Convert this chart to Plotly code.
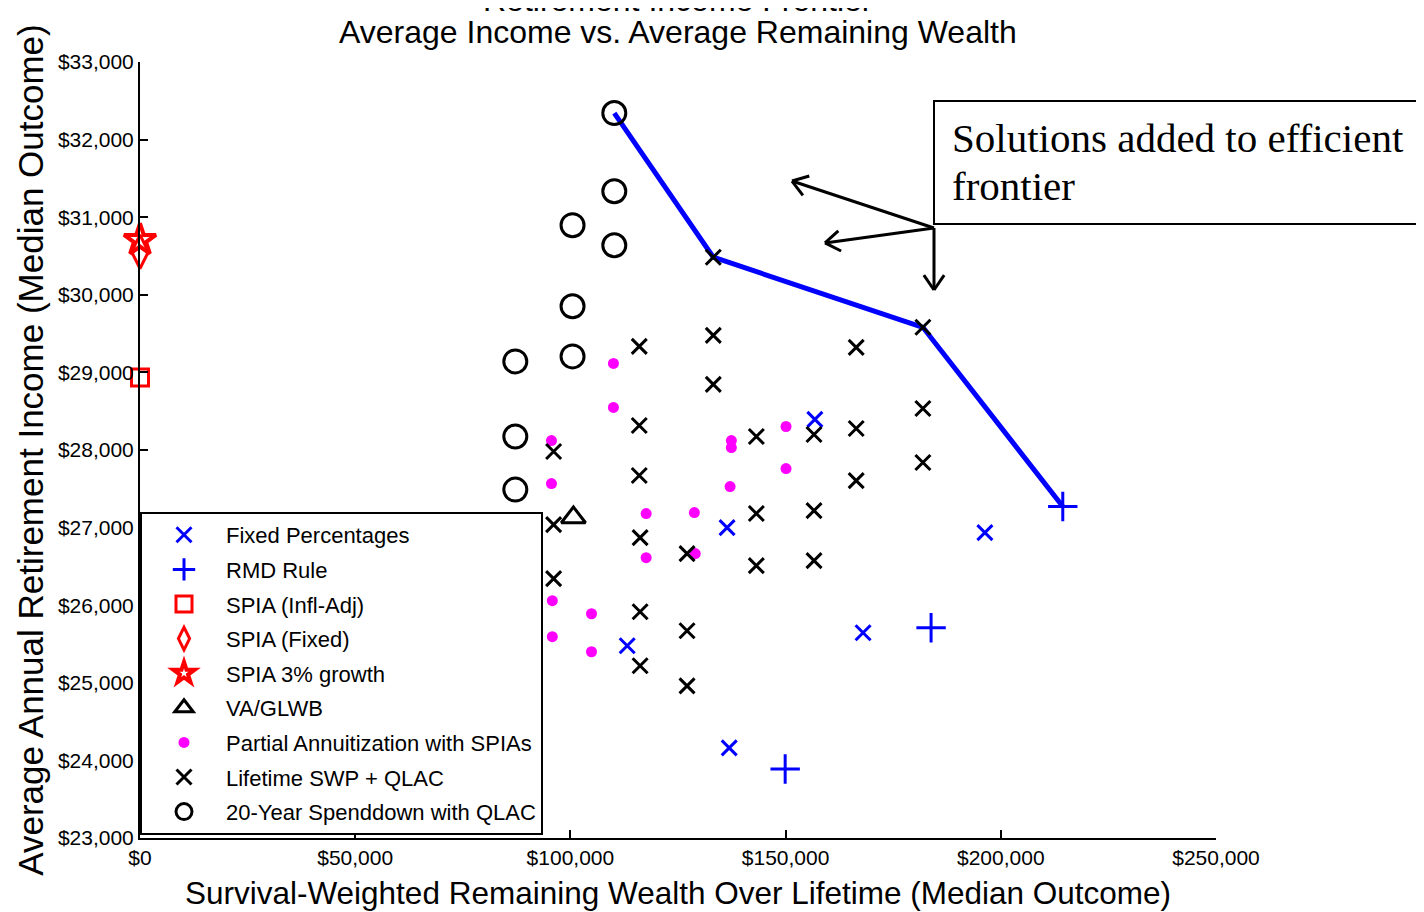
import math
import plotly.graph_objects as go

# values (wealth in $, income in $)
fixed_pct_x = [156800, 136400, 196300, 113200, 168000, 136900]
fixed_pct_y = [28394, 27000, 26935, 25477, 25645, 24161]

rmd_x = [214400, 183800, 149900]
rmd_y = [27271, 25710, 23890]

spia_infl_x = [0]
spia_infl_y = [28935]
spia_fixed_x = [0]
spia_fixed_y = [30555]
spia_growth_x = [0]
spia_growth_y = [30705]

va_x = [100700]
va_y = [27130]

partial_x = [110000, 110000, 95600, 95600, 137400, 137400, 137100, 150100, 150100,
             117600, 128800, 117600, 129000, 95800, 104900, 95800, 104900]
partial_y = [29116, 28548, 28122, 27568, 28122, 28032, 27529, 28303, 27761,
             27181, 27194, 26613, 26665, 26058, 25890, 25594, 25400]

swp_x = [133200, 181900, 133200, 116000, 166400, 133200, 181900, 116000, 156600,
         143200, 166400, 96100, 181900, 116000, 166400, 156600, 143200, 96100,
         116200, 127100, 156600, 143200, 96100, 116200, 127100, 116200, 127100]
swp_y = [30484, 29581, 29477, 29335, 29323, 28845, 28535, 28316, 28200,
         28174, 28277, 27981, 27839, 27671, 27606, 27219, 27181, 27039,
         26871, 26665, 26574, 26510, 26342, 25916, 25671, 25219, 24961]

spend_x = [110200, 110200, 100500, 110200, 100500, 100500, 87200, 87200, 87200]
spend_y = [32342, 31335, 30897, 30639, 29852, 29206, 29142, 28174, 27490]

frontier_x = [110200, 133200, 181900, 214400]
frontier_y = [32342, 30484, 29581, 27271]

# annotation arrows: tail, then heads
arrow_tail = (184480, 30861)
arrow_heads = [(151487, 31466), (159154, 30668), (184480, 30062)]

BLUE = "#0000ff"
RED = "#ff0000"
MAG = "#ff00ff"
FONT = "Liberation Sans, Arial, sans-serif"
SERIF = "Liberation Serif, Times New Roman, serif"

# page body has an 8px margin, so the plot box is shifted to compensate
L, T, PW, PH = 132, 54, 1076, 776

fig = go.Figure()

fig.add_trace(go.Scatter(x=frontier_x, y=frontier_y, mode="lines",
                         line=dict(color=BLUE, width=5), showlegend=False))

series = [
    ("Fixed Percentages", fixed_pct_x, fixed_pct_y, "x-thin-open", BLUE, 15, 3),
    ("RMD Rule", rmd_x, rmd_y, "cross-thin-open", BLUE, 21, 3),
    ("SPIA (Infl-Adj)", spia_infl_x, spia_infl_y, "square-open", RED, 17, 3),
    ("SPIA (Fixed)", spia_fixed_x, spia_fixed_y, "diamond-tall-open", RED, 24, 3),
    ("SPIA 3% growth", spia_growth_x, spia_growth_y, "star-open", RED, 24, 4),
    ("VA/GLWB", va_x, va_y, "triangle-up-open", "black", 21, 3),
    ("Partial Annuitization with SPIAs", partial_x, partial_y, "circle", MAG, 11, 0),
    ("Lifetime SWP + QLAC", swp_x, swp_y, "x-thin-open", "black", 15, 3),
    ("20-Year Spenddown with QLAC", spend_x, spend_y, "circle-open", "black", 23, 3),
]
for i, (name, xs, ys, sym, col, size, lw) in enumerate(series):
    fig.add_trace(go.Scatter(
        x=xs, y=ys, mode="markers", name=name, legendgroup=str(i),
        cliponaxis=False,
        marker=dict(symbol=sym, color=col, size=size,
                    line=dict(color=col, width=lw)),
    ))

# arrows from the note box to the new frontier points
xpx = PW / 250000
ypx = PH / 10000
for hx, hy in arrow_heads:
    fig.add_shape(type="line", x0=arrow_tail[0], y0=arrow_tail[1], x1=hx, y1=hy,
                  line=dict(color="black", width=3))
    dx = (arrow_tail[0] - hx) * xpx
    dy = (arrow_tail[1] - hy) * ypx
    d = math.hypot(dx, dy)
    ux, uy = dx / d, dy / d
    for ang in (0.6, -0.6):
        wx = ux * math.cos(ang) - uy * math.sin(ang)
        wy = ux * math.sin(ang) + uy * math.cos(ang)
        fig.add_shape(type="line", xref="x", yref="y",
                      xsizemode="pixel", ysizemode="pixel",
                      xanchor=hx, yanchor=hy,
                      x0=0, y0=0, x1=wx * 18, y1=wy * 18,
                      line=dict(color="black", width=3))

# note box
def px_x(p):
    return (p - 8 - L) / PW


def px_y(p):
    return (T + PH - (p - 8)) / PH


fig.add_shape(type="rect", xref="paper", yref="paper",
              x0=px_x(934), x1=px_x(1440), y0=px_y(224), y1=px_y(101),
              line=dict(color="black", width=2), fillcolor="white", layer="above")
for txt, yb in (("Solutions added to efficient", 138), ("frontier", 186)):
    fig.add_annotation(text=txt, xref="paper", yref="paper",
                       x=px_x(950), y=px_y(yb), xanchor="left", yanchor="middle",
                       showarrow=False, font=dict(family=SERIF, size=41, color="black"))

# two-line title, the first line runs off the top of the page as in the original
for txt, shift in (("Retirement Income Frontier", 42),
                   ("Average Income vs. Average Remaining Wealth", 10)):
    fig.add_annotation(text=txt, xref="paper", yref="paper", x=0.5, y=1,
                       xanchor="center", yanchor="bottom", yshift=shift,
                       showarrow=False, font=dict(family=FONT, size=32, color="black"))

fig.update_layout(
    width=1424, height=912,
    margin=dict(l=L, r=1424 - L - PW, t=T, b=912 - T - PH),
    paper_bgcolor="white", plot_bgcolor="white",
    font=dict(family=FONT, size=21, color="black"),
    legend=dict(x=0, y=3 / PH, xanchor="left", yanchor="bottom",
                bgcolor="white", bordercolor="black", borderwidth=2,
                font=dict(family=FONT, size=22, color="black"),
                tracegroupgap=3, itemwidth=74),
    xaxis=dict(range=[0, 250000], tickvals=[0, 50000, 100000, 150000, 200000, 250000],
               tickformat="$,.0f", showgrid=False, zeroline=False,
               showline=True, linecolor="black", linewidth=2,
               ticks="inside", ticklen=8, tickwidth=1.5, tickcolor="black",
               title=dict(text="Survival-Weighted Remaining Wealth Over Lifetime (Median Outcome)",
                          font=dict(family=FONT, size=31.5), standoff=14)),
    yaxis=dict(range=[23000, 33000], dtick=1000, tickformat="$,.0f",
               showgrid=False, zeroline=False,
               showline=True, linecolor="black", linewidth=2,
               ticks="inside", ticklen=8, tickwidth=1.5, tickcolor="black",
               title=dict(text="Average Annual Retirement Income (Median Outcome)",
                          font=dict(family=FONT, size=35), standoff=4)),
)

fig.write_html("out.html")
